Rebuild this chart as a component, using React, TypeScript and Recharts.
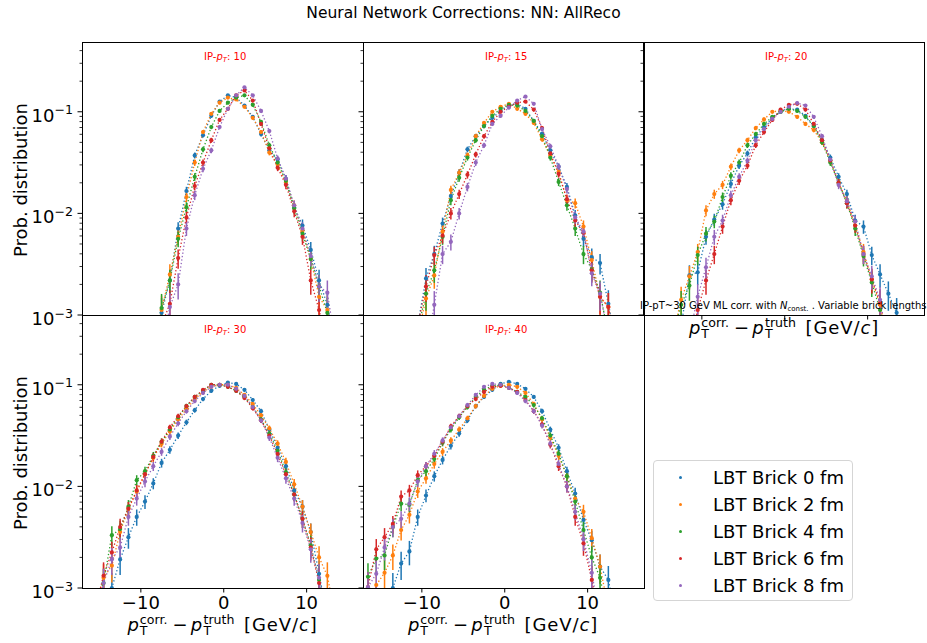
import React from "react";
import { LineChart, Line, XAxis, YAxis, ErrorBar } from "recharts";

const FONT = "DejaVu Sans, sans-serif";
const COLORS = ["#1f77b4", "#ff7f0e", "#2ca02c", "#d62728", "#9467bd"];
const SERIES_LABELS = [
  "LBT Brick 0 fm",
  "LBT Brick 2 fm",
  "LBT Brick 4 fm",
  "LBT Brick 6 fm",
  "LBT Brick 8 fm",
];
const PANEL_IP = ["10", "15", "20", "30", "40"];

// bin centres of pT(corr) - pT(truth), 1 GeV bins
const BINS = [
  -16.5, -15.5, -14.5, -13.5, -12.5, -11.5, -10.5, -9.5, -8.5, -7.5, -6.5,
  -5.5, -4.5, -3.5, -2.5, -1.5, -0.5, 0.5, 1.5, 2.5, 3.5, 4.5, 5.5, 6.5, 7.5,
  8.5, 9.5, 10.5, 11.5, 12.5, 13.5,
];

const X_TICKS = [-10, 0, 10];
const X_TICK_LABELS = ["\u221210", "0", "10"];
const Y_TICKS = [0.001, 0.01, 0.1];
const Y_TICK_EXP = ["\u22123", "\u22122", "\u22121"];
const Y_MINOR = [
  0.002, 0.003, 0.004, 0.005, 0.006, 0.007, 0.008, 0.009, 0.02, 0.03, 0.04,
  0.05, 0.06, 0.07, 0.08, 0.09, 0.2, 0.3, 0.4,
];

// places a run of values (first one at bin `start`) onto BINS
const from = (start: number, vals: number[]) =>
  BINS.map((b) => {
    const i = Math.round(b - start);
    return i >= 0 && i < vals.length ? vals[i] : null;
  });

// IP-pT 10
const IP10_B0 = from(-8.5, [0.0005, 0.00105, 0.00219, 0.00708, 0.0166, 0.0372, 0.0589, 0.0912, 0.126, 0.145, 0.138, 0.115, 0.0891, 0.0603, 0.0417, 0.0339, 0.0219, 0.0115, 0.00759, 0.00437, 0.00219, 0.00126, 0.0005]);
const IP10_B2 = from(-8.5, [0.0005, 0.00112, 0.00251, 0.00589, 0.0145, 0.0316, 0.0631, 0.0955, 0.123, 0.138, 0.132, 0.112, 0.0871, 0.0631, 0.0398, 0.0302, 0.02, 0.012, 0.00676, 0.00355, 0.00151, 0.00112, 0.0005]);
const IP10_B4 = from(-8.5, [0.000562, 0.00117, 0.00219, 0.00562, 0.0115, 0.0229, 0.0427, 0.0708, 0.102, 0.123, 0.138, 0.145, 0.117, 0.0794, 0.0468, 0.0316, 0.0209, 0.0112, 0.00631, 0.00355, 0.00191, 0.00105, 0.0005]);
const IP10_B6 = from(-8.5, [0.000398, 0.000794, 0.00129, 0.00363, 0.00912, 0.0186, 0.0316, 0.0525, 0.0832, 0.107, 0.145, 0.162, 0.129, 0.0759, 0.0437, 0.0282, 0.0191, 0.0105, 0.00589, 0.00219, 0.00112, 0.0005]);
const IP10_B8 = from(-7.5, [0.0005, 0.0012, 0.002, 0.00708, 0.0151, 0.0275, 0.0417, 0.0708, 0.107, 0.145, 0.174, 0.145, 0.102, 0.0646, 0.0347, 0.0219, 0.012, 0.00708, 0.0038, 0.00191, 0.00166, 0.0005]);

// IP-pT 15
const IP15_B0 = from(-10.5, [0.000794, 0.00229, 0.00398, 0.00794, 0.0148, 0.0251, 0.0427, 0.0575, 0.0724, 0.0871, 0.102, 0.117, 0.12, 0.107, 0.0813, 0.0603, 0.0417, 0.0288, 0.0182, 0.00955, 0.00562, 0.00372, 0.00324, 0.00129, 0.0005]);
const IP15_B2 = from(-10.5, [0.000631, 0.00145, 0.00245, 0.00661, 0.017, 0.0251, 0.0372, 0.0575, 0.0776, 0.1, 0.112, 0.12, 0.107, 0.0955, 0.0776, 0.0537, 0.0372, 0.0257, 0.0135, 0.0126, 0.00741, 0.00347, 0.00151, 0.0012, 0.0005]);
const IP15_B4 = from(-10.5, [0.000708, 0.00162, 0.00275, 0.00589, 0.0135, 0.0224, 0.0355, 0.0525, 0.0724, 0.0912, 0.107, 0.117, 0.115, 0.102, 0.0813, 0.0575, 0.0355, 0.0204, 0.012, 0.00708, 0.00398, 0.00282, 0.00166, 0.000631]);
const IP15_B6 = from(-10.5, [0.000794, 0.00191, 0.00389, 0.00603, 0.01, 0.0155, 0.024, 0.038, 0.0575, 0.0794, 0.1, 0.112, 0.123, 0.126, 0.105, 0.0692, 0.0389, 0.0245, 0.0138, 0.00851, 0.00646, 0.00275, 0.00151, 0.0012, 0.0005]);
const IP15_B8 = from(-9.5, [0.000398, 0.00126, 0.00398, 0.00525, 0.01, 0.0182, 0.0316, 0.0468, 0.0759, 0.0912, 0.11, 0.129, 0.141, 0.12, 0.0676, 0.0457, 0.0288, 0.0174, 0.00912, 0.00661, 0.00257, 0.00162, 0.000631]);

// IP-pT 20
const IP20_B0 = from(-12.5, [0.000794, 0.00245, 0.00263, 0.00589, 0.00871, 0.0123, 0.0195, 0.0295, 0.0389, 0.0562, 0.0708, 0.0871, 0.1, 0.107, 0.105, 0.0912, 0.0724, 0.0525, 0.0355, 0.0229, 0.0155, 0.00851, 0.00741, 0.00389, 0.00251, 0.00162, 0.00105]);
const IP20_B2 = from(-13.5, [0.000631, 0.00141, 0.0024, 0.00417, 0.0107, 0.0155, 0.0191, 0.0288, 0.0417, 0.0525, 0.0692, 0.0841, 0.1, 0.102, 0.1, 0.0891, 0.0759, 0.0661, 0.0501, 0.0331, 0.02, 0.0132, 0.00759, 0.00417, 0.00224, 0.00126, 0.0005]);
const IP20_B4 = from(-13.5, [0.000631, 0.00126, 0.00195, 0.00389, 0.00631, 0.00832, 0.0145, 0.0234, 0.0316, 0.0468, 0.0603, 0.0759, 0.0891, 0.1, 0.107, 0.102, 0.0891, 0.0724, 0.0501, 0.0316, 0.02, 0.0126, 0.00708, 0.0038, 0.00209, 0.00112, 0.0005]);
const IP20_B6 = from(-11.5, [0.0005, 0.00112, 0.00219, 0.00398, 0.00741, 0.0135, 0.0209, 0.0295, 0.0468, 0.0631, 0.0832, 0.105, 0.117, 0.12, 0.105, 0.0759, 0.0525, 0.0331, 0.02, 0.0126, 0.00759, 0.00398, 0.00224, 0.00132, 0.0005]);
const IP20_B8 = from(-11.5, [0.000631, 0.00151, 0.00295, 0.00589, 0.00851, 0.0151, 0.0229, 0.0331, 0.0525, 0.0676, 0.0851, 0.1, 0.112, 0.122, 0.115, 0.0891, 0.0575, 0.0339, 0.0191, 0.0132, 0.00832, 0.00398, 0.0024, 0.00141, 0.0005]);

// IP-pT 30
const IP30_B0 = from(-14.5, [0.0005, 0.001, 0.00191, 0.00316, 0.00501, 0.00708, 0.0107, 0.017, 0.0229, 0.0316, 0.0427, 0.0562, 0.0724, 0.0871, 0.0977, 0.105, 0.102, 0.0891, 0.0708, 0.055, 0.0363, 0.024, 0.0158, 0.00912, 0.00631, 0.00355, 0.00138, 0.0005]);
const IP30_B2 = from(-15.5, [0.000631, 0.00126, 0.00166, 0.00355, 0.00603, 0.00891, 0.0132, 0.0191, 0.0263, 0.0347, 0.0457, 0.0575, 0.0724, 0.0851, 0.0955, 0.1, 0.1, 0.0933, 0.0794, 0.0646, 0.0501, 0.0372, 0.0263, 0.0174, 0.0105, 0.00631, 0.00355, 0.002, 0.00132, 0.0005]);
const IP30_B4 = from(-15.5, [0.000794, 0.00112, 0.00331, 0.0038, 0.00631, 0.0115, 0.0141, 0.02, 0.0275, 0.0363, 0.0479, 0.0617, 0.0759, 0.0871, 0.1, 0.1, 0.0955, 0.0871, 0.0759, 0.0603, 0.0457, 0.0331, 0.0224, 0.0138, 0.00832, 0.00479, 0.00263, 0.0012, 0.0005]);
const IP30_B6 = from(-15.5, [0.000631, 0.00132, 0.00224, 0.00398, 0.00603, 0.00912, 0.0132, 0.0195, 0.0275, 0.038, 0.049, 0.0617, 0.0759, 0.0891, 0.1, 0.1, 0.0955, 0.0871, 0.0741, 0.0589, 0.0447, 0.0316, 0.0209, 0.0132, 0.00832, 0.00479, 0.00251, 0.00112, 0.0005]);
const IP30_B8 = from(-15.5, [0.0005, 0.00112, 0.00191, 0.00251, 0.00501, 0.00759, 0.0112, 0.0158, 0.0219, 0.0309, 0.0417, 0.055, 0.0692, 0.0832, 0.0955, 0.1, 0.1, 0.0912, 0.0776, 0.0603, 0.0447, 0.0302, 0.0191, 0.012, 0.00759, 0.00437, 0.0024, 0.00126, 0.0005]);

// IP-pT 40
const IP40_B0 = from(-14.5, [0.0005, 0.001, 0.00174, 0.00229, 0.00501, 0.00813, 0.0126, 0.0182, 0.0251, 0.0331, 0.0447, 0.0617, 0.0759, 0.0891, 0.102, 0.107, 0.102, 0.0912, 0.0759, 0.055, 0.0363, 0.024, 0.0141, 0.00851, 0.00468, 0.00295, 0.00162, 0.0012, 0.0005]);
const IP40_B2 = from(-16.5, [0.0005, 0.00107, 0.00141, 0.00209, 0.00372, 0.00525, 0.00891, 0.012, 0.0166, 0.0219, 0.0282, 0.0363, 0.0468, 0.0617, 0.0776, 0.0912, 0.0977, 0.1, 0.0955, 0.0832, 0.0646, 0.0457, 0.0302, 0.02, 0.0126, 0.00759, 0.00562, 0.00309, 0.00162, 0.000631]);
const IP40_B4 = from(-16.5, [0.00129, 0.00195, 0.00209, 0.00398, 0.00676, 0.00661, 0.0115, 0.0141, 0.0186, 0.0269, 0.0363, 0.0479, 0.0603, 0.0759, 0.0891, 0.0977, 0.1, 0.0933, 0.0851, 0.0759, 0.0631, 0.0468, 0.0316, 0.0209, 0.0126, 0.00708, 0.00372, 0.002, 0.00126, 0.0005]);
const IP40_B6 = from(-16.5, [0.00102, 0.0024, 0.00316, 0.00427, 0.00794, 0.00912, 0.0129, 0.0158, 0.02, 0.0275, 0.0389, 0.049, 0.0617, 0.0724, 0.0851, 0.0955, 0.0977, 0.0933, 0.0851, 0.0708, 0.055, 0.0407, 0.0257, 0.0158, 0.01, 0.00501, 0.00275, 0.0012, 0.0005]);
const IP40_B8 = from(-16.5, [0.00102, 0.00138, 0.00251, 0.00398, 0.00479, 0.00676, 0.0112, 0.0158, 0.0209, 0.0282, 0.038, 0.049, 0.0631, 0.0794, 0.0955, 0.102, 0.1, 0.0933, 0.0832, 0.0692, 0.055, 0.0398, 0.0263, 0.0166, 0.01, 0.00562, 0.00302, 0.00141, 0.0005]);

const PANEL_SERIES = [
  [IP10_B0, IP10_B2, IP10_B4, IP10_B6, IP10_B8],
  [IP15_B0, IP15_B2, IP15_B4, IP15_B6, IP15_B8],
  [IP20_B0, IP20_B2, IP20_B4, IP20_B6, IP20_B8],
  [IP30_B0, IP30_B2, IP30_B4, IP30_B6, IP30_B8],
  [IP40_B0, IP40_B2, IP40_B4, IP40_B6, IP40_B8],
];

// statistical error bars ~ sqrt(p / N)
const N_EVENTS = 6000;

const PLOT_W = 281;
const PLOT_H = 273;
const COL_X = [82, 363, 643];
const ROW_Y = [42, 315];
const PANEL_POS = [
  [0, 0],
  [1, 0],
  [2, 0],
  [0, 1],
  [1, 1],
];
const X_DOMAIN = [-17.1, 16.8];
const Y_DOMAIN = [0.001, 0.486];
const Y_ALL_TICKS = [...Y_TICKS, ...Y_MINOR].sort((a, b) => a - b);

const ML = 80, MT = 10, MR = 10, MB = 40;

function Panel({ idx }: { idx: number }) {
  const [col, row] = PANEL_POS[idx];
  const series = PANEL_SERIES[idx];
  const rows = BINS.map((x, i) => {
    const r: any = { x };
    series.forEach((s, k) => {
      const v = s[i];
      r[`s${k}`] = v;
      if (v == null || v < Y_DOMAIN[0]) {
        r[`e${k}`] = null;
      } else {
        const e = Math.sqrt(v / N_EVENTS);
        // lower arm stops at the frame, like the clipped original
        r[`e${k}`] = [Math.min(e, v - Y_DOMAIN[0]), e];
      }
    });
    return r;
  });
  const yLabels = col === 0;
  const xLabels = row === 1;
  const xTicks = row === 1 || col === 2;

  const xTick = (p: any) => {
    const v = p.payload.value;
    const i = X_TICKS.indexOf(v);
    return (
      <g>
        {xTicks && <line x1={p.x} x2={p.x} y1={p.y} y2={p.y + 4.5} stroke="#000" strokeWidth={1} />}
        {xLabels && (
          <text x={p.x} y={p.y + 20.5} textAnchor="middle" fontSize={18} fontFamily={FONT} fill="#000">
            {X_TICK_LABELS[i]}
          </text>
        )}
      </g>
    );
  };
  const yTick = (p: any) => {
    const v = p.payload.value;
    const i = Y_TICKS.indexOf(v);
    const major = i >= 0;
    return (
      <g>
        <line
          x1={p.x}
          x2={p.x - (major ? 4.5 : 2.5)}
          y1={p.y}
          y2={p.y}
          stroke="#000"
          strokeWidth={major ? 1 : 0.8}
        />
        {major && yLabels && (
          <text x={p.x - 9} y={p.y + 10} textAnchor="end" fontSize={18} fontFamily={FONT} fill="#000">
            10
            <tspan dy={-7.5} fontSize={12.6}>
              {Y_TICK_EXP[i]}
            </tspan>
          </text>
        )}
      </g>
    );
  };

  return (
    <div style={{ position: "absolute", left: COL_X[col] - ML, top: ROW_Y[row] - MT }}>
      <LineChart
        width={ML + PLOT_W + MR}
        height={MT + PLOT_H + MB}
        data={rows}
        margin={{ top: MT, right: MR, bottom: MB - 1, left: ML - 1 }}
      >
        <XAxis
          dataKey="x"
          type="number"
          domain={X_DOMAIN}
          ticks={X_TICKS}
          interval={0}
          allowDataOverflow
          height={1}
          axisLine={false}
          tickLine={false}
          tickSize={0}
          tickMargin={0}
          tick={xTick}
        />
        <YAxis
          yAxisId="y"
          type="number"
          scale="log"
          domain={Y_DOMAIN}
          ticks={Y_ALL_TICKS}
          interval={0}
          allowDataOverflow
          width={1}
          axisLine={false}
          tickLine={false}
          tickSize={0}
          tickMargin={0}
          tick={yTick}
        />
        {series.map((_, k) => (
          <Line
            key={k}
            yAxisId="y"
            type="linear"
            dataKey={`s${k}`}
            stroke={COLORS[k]}
            strokeWidth={1.3}
            strokeDasharray="1.3 2.2"
            dot={{ r: 2.1, fill: COLORS[k], stroke: COLORS[k], strokeWidth: 0 }}
            activeDot={false}
            connectNulls={false}
            isAnimationActive={false}
          >
            <ErrorBar
              dataKey={`e${k}`}
              width={0}
              stroke={COLORS[k]}
              strokeWidth={1.5}
              direction="y"
              isAnimationActive={false}
            />
          </Line>
        ))}
      </LineChart>
    </div>
  );
}

function XLabel({ cx, base }: { cx: number; base: number }) {
  const x0 = cx - 95;
  const sup = base - 7;
  const sub = base + 4;
  return (
    <text fontFamily={FONT} fill="#000" fontSize={18}>
      <tspan x={x0} y={base} fontStyle="italic">p</tspan>
      <tspan x={x0 + 12.3} y={sup} fontSize={12.6}>corr.</tspan>
      <tspan x={x0 + 12.3} y={sub} fontSize={12.6}>T</tspan>
      <tspan x={x0 + 45} y={base}>{"\u2212"}</tspan>
      <tspan x={x0 + 63.3} y={base} fontStyle="italic">p</tspan>
      <tspan x={x0 + 76} y={sup} fontSize={12.6}>truth</tspan>
      <tspan x={x0 + 76} y={sub} fontSize={12.6}>T</tspan>
      <tspan x={x0 + 116.6} y={base} letterSpacing={0.9}>[GeV/</tspan>
      <tspan fontStyle="italic" letterSpacing={0.9}>c</tspan>
      <tspan>]</tspan>
    </text>
  );
}

export default function App() {
  return (
    <div
      style={{
        position: "absolute",
        left: 0,
        top: 0,
        width: 927,
        height: 643,
        overflow: "hidden",
        background: "#fff",
        fontFamily: FONT,
      }}
    >
      {PANEL_SERIES.map((_, i) => (
        <Panel key={i} idx={i} />
      ))}

      <svg
        width={927}
        height={643}
        style={{ position: "absolute", left: 0, top: 0, pointerEvents: "none" }}
      >
        {/* spines */}
        {PANEL_POS.map(([c, r], i) => (
          <rect
            key={i}
            x={COL_X[c] + 0.5}
            y={ROW_Y[r] + 0.5}
            width={PLOT_W}
            height={PLOT_H}
            fill="none"
            stroke="#000"
            strokeWidth={1}
          />
        ))}

        <text x={463.5} y={18.3} textAnchor="middle" fontSize={15.5} fontFamily={FONT}>
          Neural Network Corrections: NN: AllReco
        </text>

        {ROW_Y.map((y, r) => (
          <text
            key={r}
            transform={`translate(27, ${y + PLOT_H / 2 + 1.5}) rotate(-90)`}
            textAnchor="middle"
            fontSize={18}
            fontFamily={FONT}
          >
            Prob. distribution
          </text>
        ))}

        {PANEL_POS.map(([c, r], i) => (
          <text
            key={i}
            x={COL_X[c] + 122}
            y={ROW_Y[r] + 18}
            fontSize={10}
            fontFamily={FONT}
            fill="#ff0000"
          >
            IP-<tspan fontStyle="italic">p</tspan>
            <tspan fontStyle="italic" fontSize={7} dy={2}>T</tspan>
            <tspan dy={-2}>: {PANEL_IP[i]}</tspan>
          </text>
        ))}

        <text x={640} y={309} fontSize={10} fontFamily={FONT}>
          IP-pT~30 GeV ML corr. with <tspan fontStyle="italic">N</tspan>
          <tspan fontSize={7} dy={1.5}>const.</tspan>
          <tspan dy={-1.5}> . Variable brick lengths</tspan>
        </text>

        <XLabel cx={222.5} base={631} />
        <XLabel cx={503} base={631} />
        <XLabel cx={784} base={333.5} />
      </svg>

      {/* legend */}
      <div
        style={{
          position: "absolute",
          left: 653,
          top: 460,
          width: 200,
          height: 141,
          boxSizing: "border-box",
          border: "1px solid #d5d5d5",
          borderRadius: 4,
          background: "rgba(255,255,255,0.8)",
        }}
      >
        {SERIES_LABELS.map((lab, k) => (
          <div
            key={k}
            style={{
              position: "absolute",
              left: 0,
              top: 4 + k * 27,
              height: 24,
              width: 198,
              display: "flex",
              alignItems: "center",
            }}
          >
            <span
              style={{
                position: "absolute",
                left: 24.5,
                width: 3,
                height: 3,
                borderRadius: 2,
                background: COLORS[k],
              }}
            />
            <span
              style={{
                position: "absolute",
                left: 59,
                fontSize: 18,
                fontFamily: FONT,
                color: "#000",
                whiteSpace: "nowrap",
              }}
            >
              {lab}
            </span>
          </div>
        ))}
      </div>
    </div>
  );
}
